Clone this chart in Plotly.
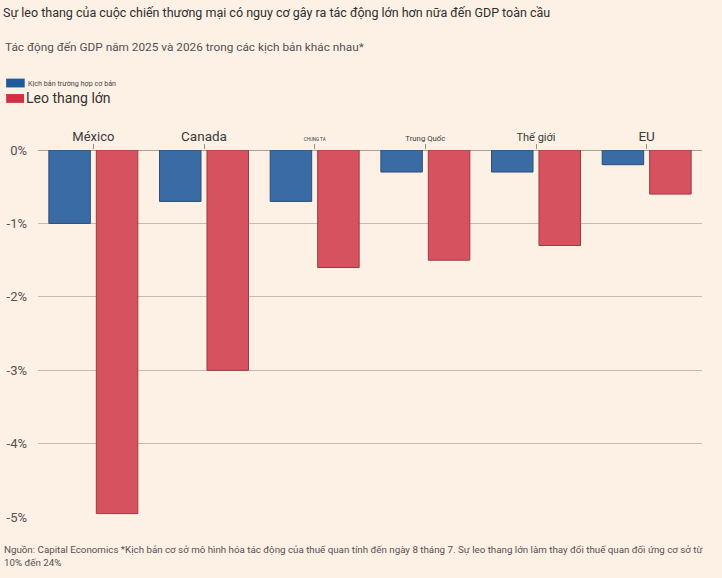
import plotly.graph_objects as go

# nhãn quốc gia và giá trị (% GDP)
countries = ["México", "Canada", "CHUNG TA", "Trung Quốc", "Thế giới", "EU"]
label_sizes = [13, 13.5, 4.5, 7.8, 11, 13.5]
base_case = [-1.0, -0.7, -0.7, -0.3, -0.3, -0.2]
big_escalation = [-4.95, -3.0, -1.6, -1.5, -1.3, -0.6]
y_ticks = [0, -1, -2, -3, -4, -5]
y_ticktext = ["0%", "-1%", "-2%", "-3%", "-4%", "-5%"]

title = "Sự leo thang của cuộc chiến thương mại có nguy cơ gây ra tác động lớn hơn nữa đến GDP toàn cầu"
subtitle = "Tác động đến GDP năm 2025 và 2026 trong các kịch bản khác nhau*"
footer = ("Nguồn: Capital Economics *Kịch bản cơ sở mô hình hóa tác động của thuế quan tính đến ngày 8 tháng 7. "
          "Sự leo thang lớn làm thay đổi thuế quan đối ứng cơ sở từ<br>10% đến 24%")

bg = "#fdf1e6"
blue = "#3b6ba5"
red = "#d6525e"

fig = go.Figure()
fig.add_trace(go.Bar(x=countries, y=base_case, name="Kịch bản trường hợp cơ bản",
                     marker=dict(color=blue, line=dict(color="#2c4e78", width=1))))
fig.add_trace(go.Bar(x=countries, y=big_escalation, name="Leo thang lớn",
                     marker=dict(color=red, line=dict(color="#9c3a44", width=1))))

ticktext = [f'<span style="font-size:{s}px">{c}</span>' for c, s in zip(countries, label_sizes)]

fig.update_layout(
    width=722, height=578,
    paper_bgcolor=bg, plot_bgcolor=bg,
    margin=dict(l=38, r=20, t=150, b=60),
    barmode="group", bargap=0.142, bargroupgap=0.126,
    showlegend=False,
    font=dict(family="Roboto", color="#333333"),
    xaxis=dict(side="top", tickmode="array", tickvals=countries, ticktext=ticktext,
               ticks="outside", ticklen=5, tickcolor="#9a9088", tickwidth=1,
               ticklabelstandoff=-3, automargin=False,
               showline=False, showgrid=False, tickfont=dict(size=14, color="#3a3a3a")),
    yaxis=dict(range=[-5.01, 0], tickvals=y_ticks, ticktext=y_ticktext,
               showgrid=True, gridcolor="#c4bab0", gridwidth=1,
               zeroline=True, zerolinecolor="#a89e95", zerolinewidth=1,
               ticks="", ticklabelstandoff=10, automargin=False,
               tickfont=dict(size=13, color="#555050")),
    shapes=[
        dict(type="rect", xref="paper", yref="paper", x0=-0.048, x1=-0.02, y0=1.17, y1=1.194,
             fillcolor="#1f5a9c", line=dict(width=0)),
        dict(type="rect", xref="paper", yref="paper", x0=-0.048, x1=-0.021, y0=1.128, y1=1.152,
             fillcolor="#d12f43", line=dict(width=0)),
    ],
    annotations=[
        dict(text=title, xref="paper", yref="paper", x=-0.056, y=1.375, xanchor="left", yanchor="middle",
             showarrow=False, font=dict(size=12.5, color="#2e2e2e")),
        dict(text=subtitle, xref="paper", yref="paper", x=-0.053, y=1.281, xanchor="left", yanchor="middle",
             showarrow=False, font=dict(size=11.8, color="#555050")),
        dict(text="Kịch bản trường hợp cơ bản", xref="paper", yref="paper", x=-0.018, y=1.182,
             xanchor="left", yanchor="middle", showarrow=False, font=dict(size=7.2, color="#444")),
        dict(text="Leo thang lớn", xref="paper", yref="paper", x=-0.021, y=1.14,
             xanchor="left", yanchor="middle", showarrow=False, font=dict(size=14, color="#333")),
        dict(text=footer, xref="paper", yref="paper", x=-0.054, y=-0.064, xanchor="left", yanchor="top",
             align="left", showarrow=False, font=dict(size=9.75, color="#555050")),
    ],
)

# bỏ lề mặc định của trang để biểu đồ nằm sát góc cửa sổ
fig.write_html("out.html", config={"displayModeBar": False},
               post_script="document.body.style.margin='0px';")
